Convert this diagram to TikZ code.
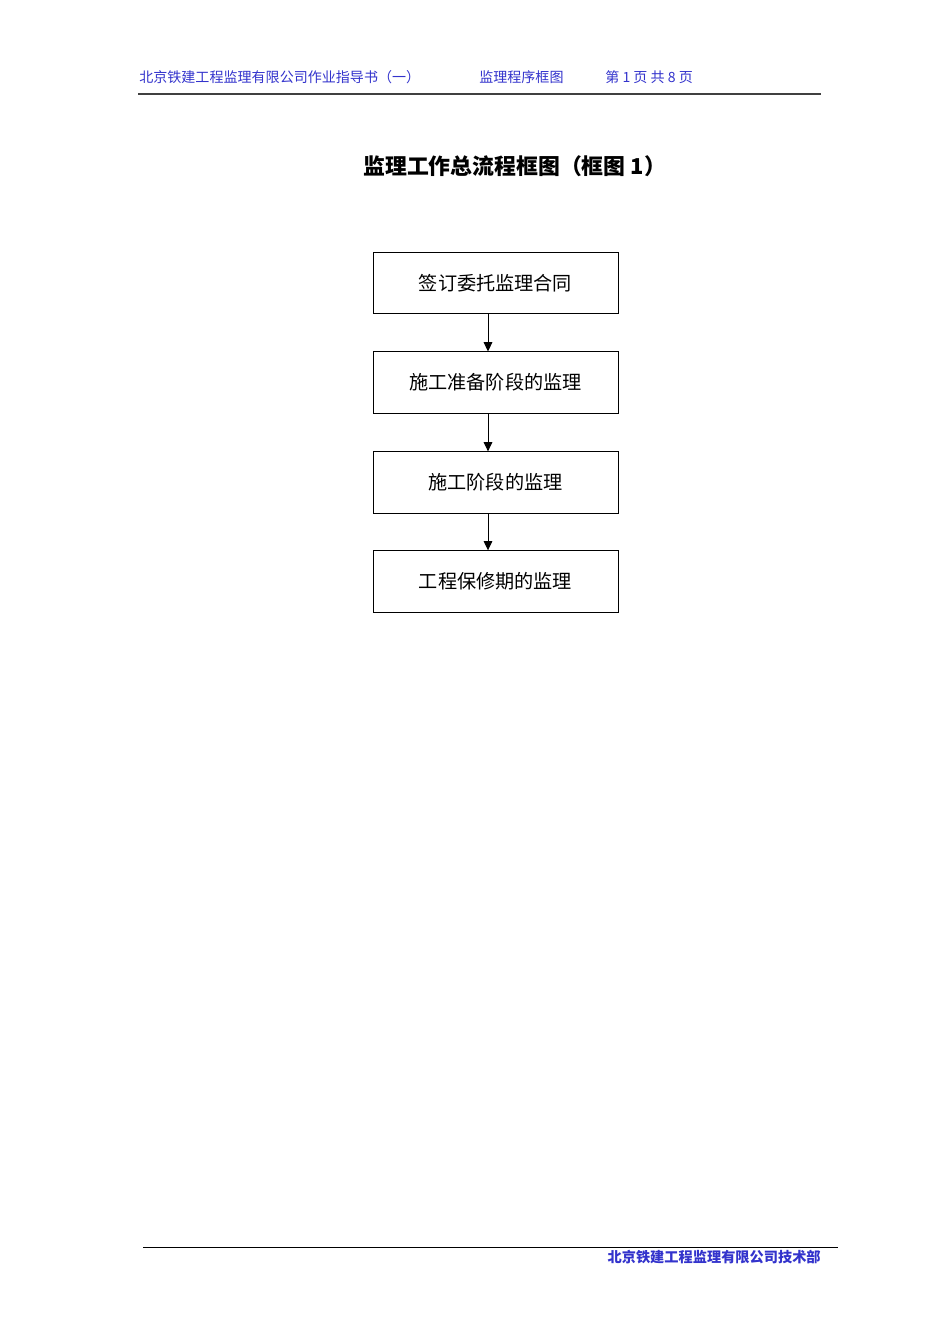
\documentclass[tikz,border=0pt]{standalone}
\usepackage{fontspec}
\newfontfamily\cjk{Noto Sans CJK SC}
\usetikzlibrary{positioning,calc,arrows.meta}
\definecolor{headblue}{RGB}{51,51,204}

\begin{document}
\begin{tikzpicture}[x=0.6266pt,y=-0.6266pt,
	stage/.style={draw, line width=0.6pt, inner sep=0pt, minimum width=153.5pt, minimum height=38.4pt, font=\cjk\fontsize{12pt}{14pt}\selectfont},
	headtext/.style={inner sep=0pt, text=headblue, font=\cjk\fontsize{8.8pt}{10pt}\selectfont},
	flow/.style={-{Triangle[length=5.8pt,width=5.4pt]}, line width=0.6pt}]
	%Definitions - page size in pixels of the reference%
	%===========================================================
	\def \PageW {950}; %Width of page
	\def \PageH {1344}; %Height of page
	\def \ArrowShift {-4.7pt}; %Arrows sit a bit left of the box centre
	\useasboundingbox (0,0) rectangle (\PageW,\PageH);
	%Header%
	%===========================================================
	\node[headtext, anchor=west] (headleft) at (139,77) {北京铁建工程监理有限公司作业指导书（一）}; %Left header
	\node[headtext, anchor=west] (headmid) at (479,77) {监理程序框图}; %Middle header
	\node[headtext, anchor=west] (headright) at (605,77) {第 1 页 共 8 页}; %Page number
	\draw[line width=1.2pt, black!75] (138,94) -- (821,94); %Header rule
	%Title%
	%===========================================================
	\node[inner sep=0pt, anchor=west, font=\cjk\bfseries\fontsize{13.7pt}{16pt}\selectfont] (title) at (363,166) {监理工作总流程框图（框图 1）};
	%Flow chart boxes%
	%===========================================================
	\node[stage] (contract) at (495.5,283) {签订委托监理合同};
	\node[stage, below=23.4pt of contract] (prepare) {施工准备阶段的监理};
	\node[stage, below=23.6pt of prepare] (build) {施工阶段的监理};
	\node[stage, below=23.0pt of build] (warranty) {工程保修期的监理};
	%Arrows between boxes
	\draw[flow] ([xshift=\ArrowShift]contract.south) -- ([xshift=\ArrowShift]prepare.north);
	\draw[flow] ([xshift=\ArrowShift]prepare.south) -- ([xshift=\ArrowShift]build.north);
	\draw[flow] ([xshift=\ArrowShift]build.south) -- ([xshift=\ArrowShift]warranty.north);
	%Footer%
	%===========================================================
	\draw[line width=0.6pt] (143,1247) -- (838,1247); %Footer rule
	\node[headtext, anchor=east, font=\cjk\bfseries\fontsize{8.9pt}{10pt}\selectfont] (foot) at (821,1257) {北京铁建工程监理有限公司技术部};
\end{tikzpicture}
\end{document}
